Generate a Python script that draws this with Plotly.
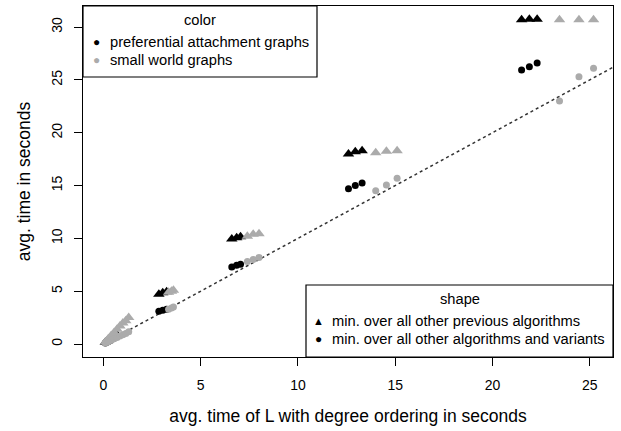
import plotly.graph_objects as go

# ---- data ----
pa_x   = [0.1, 0.2, 0.35, 0.5, 0.65, 2.85, 3.05, 3.25, 6.6, 6.85, 7.05, 12.6, 12.95, 13.3, 21.5, 21.9, 22.3]
pa_tri = [0.16, 0.32, 0.55, 0.8, 1.0, 4.7, 4.85, 4.95, 9.95, 10.05, 10.15, 18.0, 18.2, 18.3, 30.7, 30.75, 30.75]
pa_dot = [0.1, 0.2, 0.36, 0.5, 0.66, 3.1, 3.2, 3.3, 7.3, 7.45, 7.55, 14.7, 15.0, 15.25, 25.95, 26.25, 26.6]

sw_x   = [0.1, 0.25, 0.4, 0.55, 0.7, 0.85, 1.0, 1.15, 1.3, 3.35, 3.5, 3.6, 7.4, 7.7, 8.0, 14.0, 14.55, 15.1, 23.45, 24.45, 25.2]
sw_tri = [0.2, 0.5, 0.8, 1.1, 1.4, 1.7, 2.0, 2.2, 2.5, 4.9, 5.0, 5.1, 10.2, 10.4, 10.45, 18.1, 18.25, 18.3, 30.7, 30.7, 30.7]
sw_dot = [0.09, 0.22, 0.36, 0.5, 0.62, 0.75, 0.88, 1.0, 1.15, 3.3, 3.4, 3.5, 7.8, 8.0, 8.2, 14.5, 15.05, 15.7, 23.0, 25.3, 26.1]

ref_line = [0, 26.2]

x_ticks = [0, 5, 10, 15, 20, 25]
y_ticks = [0, 5, 10, 15, 20, 25, 30]

BLACK = "#000000"
GRAY = "#ababab"
FONT = "Liberation Sans, Arial, sans-serif"

W, H = 621, 431
L, R, T, B = 83, 613, 6, 357

fig = go.Figure()

fig.add_trace(go.Scatter(x=ref_line, y=ref_line, mode="lines",
                         line=dict(color="#333333", width=1.5, dash="3px,3px"),
                         showlegend=False, hoverinfo="skip"))

for xs, tri, dot, col in [(pa_x, pa_tri, pa_dot, BLACK), (sw_x, sw_tri, sw_dot, GRAY)]:
    fig.add_trace(go.Scatter(x=xs, y=tri, mode="markers",
                             marker=dict(symbol="triangle-up", size=10, color=col, line=dict(width=0)),
                             showlegend=False))
    fig.add_trace(go.Scatter(x=xs, y=dot, mode="markers",
                             marker=dict(symbol="circle", size=7, color=col, line=dict(width=0)),
                             showlegend=False))

def px(x):
    return (x - L) / (R - L)

def py(y):
    return (B - y) / (B - T)

shapes = [
    dict(type="rect", xref="paper", yref="paper", x0=px(83), x1=px(317), y0=py(77), y1=py(6),
         line=dict(color="black", width=1.2), fillcolor="white", layer="above"),
    dict(type="rect", xref="paper", yref="paper", x0=px(306), x1=px(613), y0=py(357), y1=py(285),
         line=dict(color="black", width=1.2), fillcolor="white", layer="above"),
]

ann = []
def txt(x, y, s, anchor="left", size=14.7, color="black"):
    ann.append(dict(x=px(x), y=py(y), xref="paper", yref="paper", text=s, showarrow=False,
                    xanchor=anchor, yanchor="middle", font=dict(family=FONT, size=size, color=color)))

txt(200, 20, "color", "center")
txt(96, 42, "●", "center", 12, BLACK)
txt(108, 42, "preferential attachment graphs")
txt(96, 60, "●", "center", 12, GRAY)
txt(108, 60, "small world graphs")

txt(460, 299, "shape", "center")
txt(318, 321, "▲", "center", 11, BLACK)
txt(330, 321, "min. over all other previous algorithms")
txt(318, 339, "●", "center", 12, BLACK)
txt(330, 339, "min. over all other algorithms and variants")

fig.update_layout(
    width=W, height=H,
    margin=dict(l=L, r=W - R, t=T, b=H - B, pad=0),
    plot_bgcolor="white", paper_bgcolor="white",
    shapes=shapes, annotations=ann,
    font=dict(family=FONT, size=14, color="black"),
    xaxis=dict(range=[-1.05, 26.2], tickvals=x_ticks, ticks="outside", ticklen=8,
               tickcolor="black", showline=True, mirror=True, linecolor="black", linewidth=1.2,
               showgrid=False, zeroline=False, ticklabelstandoff=7,
               tickfont=dict(size=14),
               title=dict(text="avg. time of L with degree ordering in seconds",
                          font=dict(size=17.5), standoff=17)),
    yaxis=dict(range=[-1.23, 32.0], tickvals=y_ticks, ticks="outside", ticklen=8,
               tickcolor="black", showline=True, mirror=True, linecolor="black", linewidth=1.2,
               showgrid=False, zeroline=False, tickangle=-90, ticklabelstandoff=6,
               tickfont=dict(size=14),
               title=dict(text="avg. time in seconds", font=dict(size=17.5), standoff=14)),
)

fig.write_html("out.html")
